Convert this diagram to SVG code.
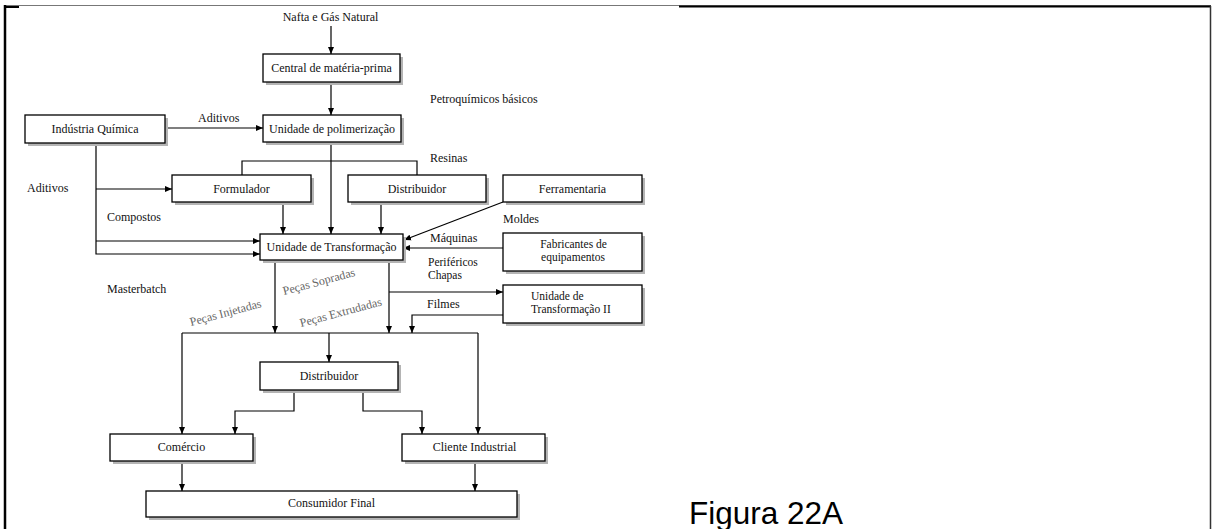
<svg xmlns="http://www.w3.org/2000/svg" width="1212" height="529" viewBox="0 0 1212 529">
  <style>
    .box { fill: #ffffff; stroke: #000000; stroke-width: 1.3; }
    .shadow { fill: #b4b4b4; }
    .lbl { font-family: "Liberation Serif", "Times New Roman", serif; font-size: 12px; fill: #111111; }
    .sm { font-size: 11.5px; }
    .mid { text-anchor: middle; }
    .gray { fill: #666666; }
    .wire { fill: none; stroke: #000000; stroke-width: 1.2; }
    .arr { marker-end: url(#head); }
    .cap { font-family: "Liberation Sans", Arial, sans-serif; font-size: 31.5px; fill: #000000; }
  </style>
  <defs>
    <marker id="head" markerUnits="userSpaceOnUse" markerWidth="8" markerHeight="7" refX="7" refY="3.5" orient="auto">
      <path d="M0,0.5 L7,3.5 L0,6.5 Z" fill="#000000"/>
    </marker>
  </defs>

  <rect width="1212" height="529" fill="#ffffff"/>

  <!-- page frame -->
  <g id="frame">
    <line x1="5" y1="5.5" x2="1211" y2="5.5" stroke="#777777" stroke-width="1"/>
    <line x1="679" y1="6.5" x2="1211" y2="6.5" stroke="#000000" stroke-width="2"/>
    <line x1="5" y1="5" x2="5" y2="529" stroke="#000000" stroke-width="2.5"/>
    <line x1="5" y1="7" x2="19" y2="7" stroke="#000000" stroke-width="2"/>
    <line x1="1210.5" y1="6" x2="1210.5" y2="529" stroke="#333333" stroke-width="1.5"/>
  </g>

  <!-- flow connectors -->
  <g id="connectors">
    <line class="wire arr" x1="331" y1="26" x2="331" y2="54"/>
    <line class="wire arr" x1="331" y1="82" x2="331" y2="115"/>
    <line class="wire arr" x1="165" y1="128" x2="263" y2="128"/>
    <line class="wire arr" x1="331" y1="142" x2="331" y2="234"/>
    <polyline class="wire" points="242,175 242,161 417,161 417,175"/>
    <polyline class="wire arr" points="96,143 96,254 260,254"/>
    <line class="wire arr" x1="96" y1="189" x2="172" y2="189"/>
    <line class="wire arr" x1="96" y1="241" x2="260" y2="241"/>
    <line class="wire arr" x1="283" y1="202" x2="283" y2="234"/>
    <line class="wire arr" x1="381" y1="202" x2="381" y2="234"/>
    <line class="wire arr" x1="503" y1="202" x2="404" y2="240"/>
    <line class="wire arr" x1="503" y1="248" x2="403" y2="248"/>
    <line class="wire arr" x1="275" y1="260" x2="275" y2="333"/>
    <line class="wire arr" x1="389" y1="260" x2="389" y2="333"/>
    <line class="wire arr" x1="389" y1="292" x2="503" y2="292"/>
    <polyline class="wire arr" points="503,315 412,315 412,333"/>
    <line class="wire" x1="182" y1="333" x2="478" y2="333"/>
    <line class="wire arr" x1="182" y1="333" x2="182" y2="434"/>
    <line class="wire arr" x1="478" y1="333" x2="478" y2="434"/>
    <line class="wire arr" x1="329" y1="333" x2="329" y2="362"/>
    <polyline class="wire arr" points="294,390 294,411 235,411 235,434"/>
    <polyline class="wire arr" points="363,390 363,411 422,411 422,434"/>
    <line class="wire arr" x1="182" y1="461" x2="182" y2="491"/>
    <line class="wire arr" x1="475" y1="461" x2="475" y2="491"/>
  </g>

  <!-- nodes -->
  <g id="central">
    <rect class="shadow" x="266" y="57" width="137" height="28"/>
    <rect class="box" x="263" y="54" width="137" height="28"/>
    <text class="lbl mid" x="331.5" y="72">Central de matéria-prima</text>
  </g>
  <g id="polimerizacao">
    <rect class="shadow" x="266" y="118" width="138" height="27"/>
    <rect class="box" x="263" y="115" width="138" height="27"/>
    <text class="lbl mid" x="332" y="133">Unidade de polimerização</text>
  </g>
  <g id="industria-quimica">
    <rect class="shadow" x="28" y="118" width="140" height="28"/>
    <rect class="box" x="25" y="115" width="140" height="28"/>
    <text class="lbl mid" x="95" y="133">Indústria Química</text>
  </g>
  <g id="formulador">
    <rect class="shadow" x="175" y="178" width="139" height="27"/>
    <rect class="box" x="172" y="175" width="139" height="27"/>
    <text class="lbl mid" x="241.5" y="193">Formulador</text>
  </g>
  <g id="distribuidor-resinas">
    <rect class="shadow" x="351" y="178" width="138" height="27"/>
    <rect class="box" x="348" y="175" width="138" height="27"/>
    <text class="lbl mid" x="417" y="193">Distribuidor</text>
  </g>
  <g id="ferramentaria">
    <rect class="shadow" x="506" y="178" width="139" height="27"/>
    <rect class="box" x="503" y="175" width="139" height="27"/>
    <text class="lbl mid" x="572.5" y="193">Ferramentaria</text>
  </g>
  <g id="unidade-transformacao">
    <rect class="shadow" x="263" y="237" width="143" height="26"/>
    <rect class="box" x="260" y="234" width="143" height="26"/>
    <text class="lbl mid" x="331.5" y="251">Unidade de Transformação</text>
  </g>
  <g id="fabricantes">
    <rect class="shadow" x="506" y="236" width="139" height="38"/>
    <rect class="box" x="503" y="233" width="139" height="38"/>
    <text class="lbl sm mid" x="573.5" y="248">Fabricantes de</text>
    <text class="lbl sm mid" x="573" y="261">equipamentos</text>
  </g>
  <g id="unidade-transformacao-2">
    <rect class="shadow" x="506" y="288" width="139" height="38"/>
    <rect class="box" x="503" y="285" width="139" height="38"/>
    <text class="lbl sm" x="531" y="300">Unidade de</text>
    <text class="lbl sm" x="531" y="313">Transformação II</text>
  </g>
  <g id="distribuidor-pecas">
    <rect class="shadow" x="263" y="365" width="138" height="28"/>
    <rect class="box" x="260" y="362" width="138" height="28"/>
    <text class="lbl mid" x="329" y="380">Distribuidor</text>
  </g>
  <g id="comercio">
    <rect class="shadow" x="113" y="437" width="143" height="27"/>
    <rect class="box" x="110" y="434" width="143" height="27"/>
    <text class="lbl mid" x="181.5" y="451">Comércio</text>
  </g>
  <g id="cliente-industrial">
    <rect class="shadow" x="405" y="437" width="143" height="27"/>
    <rect class="box" x="402" y="434" width="143" height="27"/>
    <text class="lbl mid" x="474.5" y="451">Cliente Industrial</text>
  </g>
  <g id="consumidor-final">
    <rect class="shadow" x="149" y="494" width="371" height="26"/>
    <rect class="box" x="146" y="491" width="371" height="26"/>
    <text class="lbl mid" x="331.5" y="507">Consumidor Final</text>
  </g>

  <!-- flow labels -->
  <g id="labels">
    <text class="lbl mid" x="330.5" y="21">Nafta e Gás Natural</text>
    <text class="lbl" x="198" y="122">Aditivos</text>
    <text class="lbl" x="430" y="103">Petroquímicos básicos</text>
    <text class="lbl" x="430" y="162">Resinas</text>
    <text class="lbl" x="27" y="192">Aditivos</text>
    <text class="lbl" x="107" y="221">Compostos</text>
    <text class="lbl" x="107" y="293">Masterbatch</text>
    <text class="lbl" x="503" y="223">Moldes</text>
    <text class="lbl" x="430" y="242">Máquinas</text>
    <text class="lbl sm" x="428" y="266">Periféricos</text>
    <text class="lbl sm" x="428" y="279">Chapas</text>
    <text class="lbl" x="427" y="308">Filmes</text>
    <text class="lbl gray" transform="translate(284,295) rotate(-15)">Peças Sopradas</text>
    <text class="lbl gray" transform="translate(191,326) rotate(-15)">Peças Injetadas</text>
    <text class="lbl gray" transform="translate(301,327) rotate(-15)">Peças Extrudadas</text>
  </g>

  <text class="cap" x="689" y="524">Figura 22A</text>
</svg>
